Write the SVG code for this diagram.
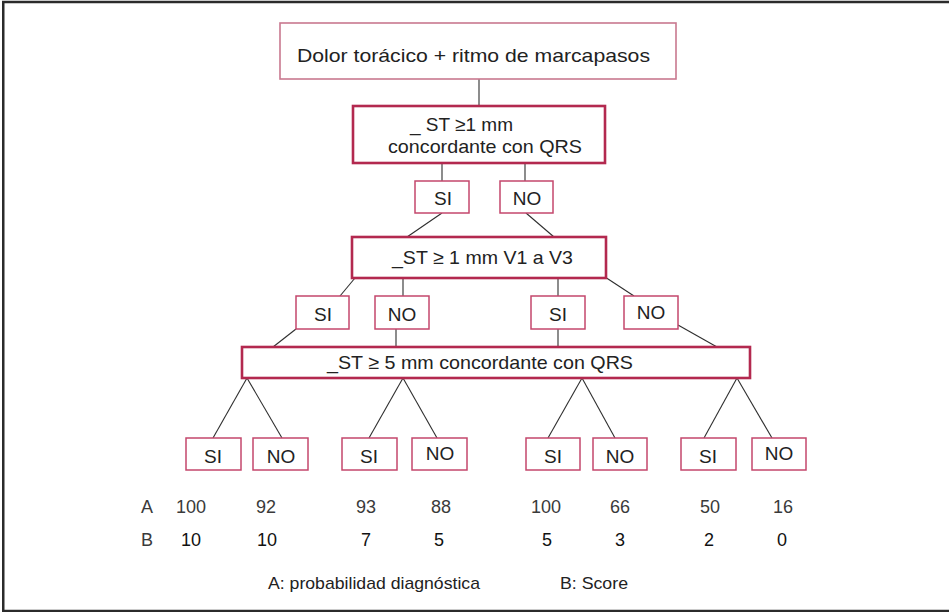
<svg xmlns="http://www.w3.org/2000/svg" width="949" height="612" viewBox="0 0 949 612">
  <style>
    text { font-family: "Liberation Sans", Arial, sans-serif; fill: #222; }
    .crit { fill: #fff; stroke: #b3294f; stroke-width: 2.6; }
    .root { fill: #fff; stroke: #c9788f; stroke-width: 1.6; }
    .ans { fill: #fff; stroke: #c4476c; stroke-width: 1.5; }
    .lbl { font-size: 19px; }
    .ansT { font-size: 19px; text-anchor: middle; }
    .num { font-size: 18px; text-anchor: middle; }
    .rowA { fill: #3a3a3a; }
    .rowB { fill: #111; }
    .leg { font-size: 17px; fill: #222; }
    #connectors line { stroke: #2e2e2e; stroke-width: 1.1; }
  </style>

  <!-- outer frame -->
  <rect x="3.25" y="2" width="960" height="609" fill="#fff" stroke="#2b2b2b" stroke-width="2.5"/>

  <!-- connectors -->
  <g id="connectors">
    <line x1="479" y1="79" x2="479" y2="106"/>
    <line x1="442" y1="163" x2="442" y2="181"/>
    <line x1="525" y1="163" x2="525" y2="181"/>
    <line x1="442" y1="213" x2="407" y2="237"/>
    <line x1="526" y1="213" x2="554" y2="237"/>
    <line x1="355" y1="278" x2="340" y2="296"/>
    <line x1="403" y1="278" x2="403" y2="296"/>
    <line x1="558" y1="278" x2="558" y2="296"/>
    <line x1="605" y1="277" x2="634" y2="296"/>
    <line x1="296" y1="329" x2="273" y2="347"/>
    <line x1="396" y1="329" x2="396" y2="347"/>
    <line x1="558" y1="329" x2="558" y2="347"/>
    <line x1="678" y1="325" x2="717" y2="347"/>
    <line x1="247" y1="378" x2="213" y2="438"/>
    <line x1="247" y1="378" x2="282" y2="438"/>
    <line x1="403" y1="378" x2="369" y2="438"/>
    <line x1="403" y1="378" x2="437" y2="438"/>
    <line x1="582" y1="378" x2="548" y2="438"/>
    <line x1="582" y1="378" x2="615" y2="438"/>
    <line x1="737" y1="378" x2="704" y2="438"/>
    <line x1="737" y1="378" x2="772" y2="438"/>
  </g>

  <!-- root -->
  <g id="root">
    <rect class="root" x="280" y="23" width="396" height="56"/>
    <text class="lbl" x="297" y="62" font-size="20" textLength="353" lengthAdjust="spacingAndGlyphs">Dolor torácico + ritmo de marcapasos</text>
  </g>

  <!-- criterion 1 -->
  <g id="st-concordante">
    <rect class="crit" x="353" y="106" width="252" height="57"/>
    <text class="lbl" x="410" y="131">_  ST ≥1 mm</text>
    <text class="lbl" x="388" y="153" textLength="194" lengthAdjust="spacingAndGlyphs">concordante con QRS</text>
  </g>

  <g id="c1-si"><rect class="ans" x="415" y="181" width="54" height="32"/><text class="ansT" x="443" y="205">SI</text></g>
  <g id="c1-no"><rect class="ans" x="500" y="181" width="53" height="32"/><text class="ansT" x="527" y="205">NO</text></g>

  <!-- criterion 2 -->
  <g id="st-v1v3">
    <rect class="crit" x="352" y="237" width="254" height="41"/>
    <text class="lbl" x="392" y="264" textLength="181" lengthAdjust="spacingAndGlyphs">_ST ≥ 1 mm V1 a V3</text>
  </g>

  <g id="c2-si-a"><rect class="ans" x="296" y="296" width="53" height="33"/><text class="ansT" x="323" y="321">SI</text></g>
  <g id="c2-no-a"><rect class="ans" x="375" y="296" width="54" height="33"/><text class="ansT" x="402" y="321">NO</text></g>
  <g id="c2-si-b"><rect class="ans" x="531" y="296" width="54" height="33"/><text class="ansT" x="558" y="321">SI</text></g>
  <g id="c2-no-b"><rect class="ans" x="624" y="296" width="54" height="33"/><text class="ansT" x="651" y="319">NO</text></g>

  <!-- criterion 3 -->
  <g id="st-5mm">
    <rect class="crit" x="242" y="347" width="508" height="31"/>
    <text class="lbl" x="327" y="369" textLength="306" lengthAdjust="spacingAndGlyphs">_ST ≥ 5 mm concordante con QRS</text>
  </g>

  <g id="l1-si"><rect class="ans" x="186" y="438" width="55" height="32"/><text class="ansT" x="213" y="463">SI</text></g>
  <g id="l1-no"><rect class="ans" x="253" y="438" width="55" height="32"/><text class="ansT" x="281" y="463">NO</text></g>
  <g id="l2-si"><rect class="ans" x="342" y="438" width="55" height="32"/><text class="ansT" x="369" y="463">SI</text></g>
  <g id="l2-no"><rect class="ans" x="412" y="438" width="55" height="32"/><text class="ansT" x="440" y="460">NO</text></g>
  <g id="l3-si"><rect class="ans" x="526" y="438" width="54" height="32"/><text class="ansT" x="553" y="463">SI</text></g>
  <g id="l3-no"><rect class="ans" x="593" y="438" width="54" height="32"/><text class="ansT" x="620" y="463">NO</text></g>
  <g id="l4-si"><rect class="ans" x="681" y="438" width="55" height="32"/><text class="ansT" x="708" y="463">SI</text></g>
  <g id="l4-no"><rect class="ans" x="752" y="438" width="54" height="32"/><text class="ansT" x="779" y="460">NO</text></g>

  <!-- results table -->
  <g id="row-a" class="rowA">
    <text class="num rowA" x="147" y="513">A</text>
    <text class="num rowA" x="191" y="513">100</text>
    <text class="num rowA" x="266" y="513">92</text>
    <text class="num rowA" x="366" y="513">93</text>
    <text class="num rowA" x="441" y="513">88</text>
    <text class="num rowA" x="546" y="513">100</text>
    <text class="num rowA" x="620" y="513">66</text>
    <text class="num rowA" x="710" y="513">50</text>
    <text class="num rowA" x="783" y="513">16</text>
  </g>
  <g id="row-b">
    <text class="num rowA" x="147" y="546">B</text>
    <text class="num rowB" x="191" y="546">10</text>
    <text class="num rowB" x="267" y="546">10</text>
    <text class="num rowB" x="366" y="546">7</text>
    <text class="num rowB" x="439" y="546">5</text>
    <text class="num rowB" x="547" y="546">5</text>
    <text class="num rowB" x="620" y="546">3</text>
    <text class="num rowB" x="709" y="546">2</text>
    <text class="num rowB" x="782" y="546">0</text>
  </g>

  <!-- legend -->
  <g id="legend">
    <text class="leg" x="268" y="589" textLength="212" lengthAdjust="spacingAndGlyphs">A: probabilidad diagnóstica</text>
    <text class="leg" x="560" y="589" textLength="68" lengthAdjust="spacingAndGlyphs">B: Score</text>
  </g>
</svg>
